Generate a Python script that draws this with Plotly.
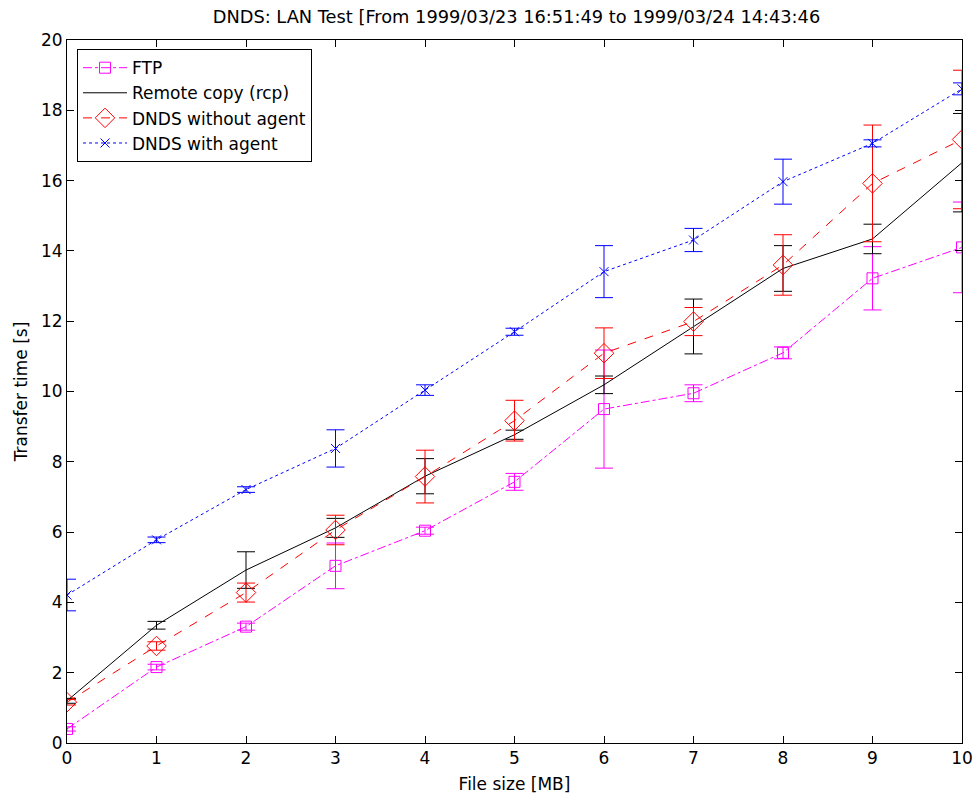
import plotly.graph_objects as go

x = [0, 1, 2, 3, 4, 5, 6, 7, 8, 9, 10]

ftp = [0.40, 2.16, 3.31, 5.04, 6.04, 7.43, 9.50, 9.95, 11.10, 13.22, 14.10]
ftp_err = [0.06, 0.08, 0.10, 0.65, 0.10, 0.24, 1.68, 0.24, 0.17, 0.90, 1.29]

rcp = [1.20, 3.35, 4.92, 6.12, 7.59, 8.77, 10.19, 11.85, 13.50, 14.34, 16.51]
rcp_err = [0.07, 0.11, 0.52, 0.27, 0.50, 0.13, 0.25, 0.78, 0.65, 0.42, 1.40]

dnds_no = [1.16, 2.76, 4.28, 6.06, 7.58, 9.17, 11.09, 11.99, 13.60, 15.92, 17.17]
dnds_no_err = [0.08, 0.12, 0.27, 0.42, 0.75, 0.58, 0.72, 0.40, 0.86, 1.66, 1.97]

dnds_ag = [4.21, 5.78, 7.21, 8.38, 10.04, 11.70, 13.41, 14.31, 15.97, 17.06, 18.61]
dnds_ag_err = [0.45, 0.08, 0.08, 0.53, 0.15, 0.10, 0.74, 0.33, 0.64, 0.10, 0.17]

names = ["FTP", "Remote copy (rcp)", "DNDS without agent", "DNDS with agent"]
title = "DNDS: LAN Test [From 1999/03/23 16:51:49 to 1999/03/24 14:43:46"
x_ticks = list(range(0, 11))
y_ticks = list(range(0, 21, 2))

FONT = "DejaVu Sans, sans-serif"

fig = go.Figure()

def add(y, err, name, color, dash, symbol, msize, mode="lines+markers"):
    fig.add_trace(go.Scatter(
        x=x, y=y, name=name, mode=mode,
        line=dict(color=color, width=1, dash=dash),
        marker=dict(symbol=symbol, size=msize, color=color,
                    line=dict(color=color, width=1)),
        error_y=dict(type="data", array=err, visible=True, color=color,
                     thickness=1, width=9),
        hoverinfo="skip",
    ))

add(ftp, ftp_err, names[0], "#ff00ff", "dashdot", "square-open", 11)
add(rcp, rcp_err, names[1], "#000000", "solid", "circle", 1, mode="lines")
add(dnds_no, dnds_no_err, names[2], "#ff0000", "dash", "diamond-open", 15)
add(dnds_ag, dnds_ag_err, names[3], "#0000ff", "dot", "x-thin-open", 9)

axis_common = dict(
    showgrid=False, zeroline=False, showline=True, linecolor="black",
    linewidth=1, mirror="ticks", ticks="inside", ticklen=7,
    tickcolor="black", tickfont=dict(family=FONT, size=17, color="black"),
    automargin=False,
)

fig.update_layout(
    width=974, height=799,
    margin=dict(l=67, r=12, t=40, b=56),
    paper_bgcolor="white", plot_bgcolor="white",
    font=dict(family=FONT, color="black"),
    hovermode=False,
    title=dict(text=title, x=516.5 / 974, xanchor="center",
               y=1 - 17 / 799, yanchor="middle",
               font=dict(family=FONT, size=17.8, color="black")),
    xaxis=dict(range=[0, 10], tickvals=x_ticks,
               title=dict(text="File size [MB]", font=dict(size=17), standoff=10),
               **axis_common),
    yaxis=dict(range=[0, 20], tickvals=y_ticks,
               title=dict(text="Transfer time [s]", font=dict(size=17), standoff=9),
               **axis_common),
    legend=dict(x=0.0112, y=0.987, xanchor="left", yanchor="top",
                bgcolor="white", bordercolor="black", borderwidth=1,
                font=dict(family=FONT, size=17, color="black"),
                tracegroupgap=0, itemwidth=44),
    showlegend=True,
)

fig.write_html(
    "out.html",
    config={"displayModeBar": False, "staticPlot": True},
    post_script="document.body.style.margin='0';document.body.style.overflow='hidden';",
)
